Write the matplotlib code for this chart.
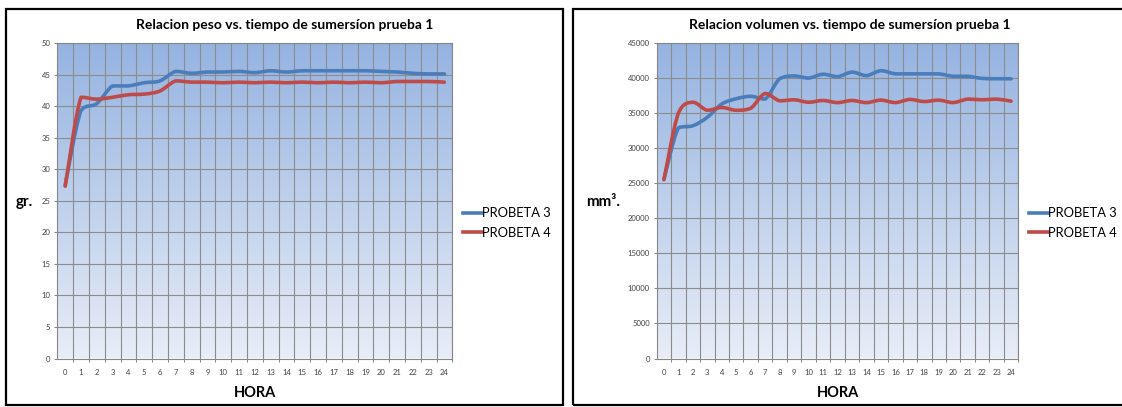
import numpy as np
import matplotlib.pyplot as plt
from matplotlib.path import Path
from matplotlib.patches import PathPatch, Rectangle
from matplotlib.lines import Line2D
from matplotlib.colors import LinearSegmentedColormap

plt.rcParams['font.family'] = ['Lato', 'DejaVu Sans']

W, H = 1122, 407

horas = list(range(25))
hora_labels = [str(h) for h in horas]

peso_p3 = [27.5, 39.3, 40.4, 43.2, 43.2, 43.7, 44.0, 45.5, 45.2, 45.4, 45.4, 45.5, 45.3,
           45.6, 45.4, 45.6, 45.6, 45.6, 45.6, 45.6, 45.5, 45.4, 45.2, 45.1, 45.1]
peso_p4 = [27.3, 41.4, 41.1, 41.4, 41.8, 41.9, 42.4, 44.0, 43.8, 43.8, 43.7, 43.8, 43.7,
           43.8, 43.7, 43.8, 43.7, 43.8, 43.7, 43.8, 43.7, 43.9, 43.9, 43.9, 43.8]

vol_p3 = [25600, 32900, 33200, 34400, 36300, 37050, 37400, 37000, 39900, 40300, 40000, 40550, 40200,
          40850, 40350, 41050, 40600, 40600, 40600, 40600, 40250, 40250, 39950, 39900, 39900]
vol_p4 = [25500, 35000, 36550, 35400, 35800, 35400, 35700, 37800, 36750, 36900, 36550, 36800, 36500,
          36800, 36500, 36850, 36500, 36950, 36650, 36850, 36500, 37000, 36900, 37000, 36700]

series_names = ['PROBETA 3', 'PROBETA 4']
series_colors = ['#4a7ebb', '#be4b48']

bg_cmap = LinearSegmentedColormap.from_list('bg', ['#e8edf7', '#95b3e1'])


def fig_rect(x, y, w, h):
    # pixel box (top-left origin) -> figure fraction
    return [x / W, 1 - (y + h) / H, w / W, h / H]


def smooth_path(xs, ys):
    # Catmull-Rom style Bezier segments, control points kept inside each segment's range
    xs = np.asarray(xs, float)
    ys = np.asarray(ys, float)
    n = len(xs)
    verts = [(xs[0], ys[0])]
    codes = [Path.MOVETO]
    for i in range(n - 1):
        i0 = max(i - 1, 0)
        i3 = min(i + 2, n - 1)
        lo, hi = min(ys[i], ys[i + 1]), max(ys[i], ys[i + 1])
        c1y = np.clip(ys[i] + (ys[i + 1] - ys[i0]) / 6, lo, hi)
        c2y = np.clip(ys[i + 1] - (ys[i3] - ys[i]) / 6, lo, hi)
        c1 = (xs[i] + (xs[i + 1] - xs[i0]) / 6, c1y)
        c2 = (xs[i + 1] - (xs[i3] - xs[i]) / 6, c2y)
        verts += [c1, c2, (xs[i + 1], ys[i + 1])]
        codes += [Path.CURVE4] * 3
    return Path(verts, codes)


def draw_chart(ax, series, ymax, ystep, title, ylabel, title_x, ylabel_x, hora_x, legend_x):
    ax.imshow(np.linspace(1, 0, 256).reshape(-1, 1), cmap=bg_cmap, aspect='auto',
              extent=[0, 1, 0, 1], transform=ax.transAxes, zorder=0)
    ax.set_xlim(-0.5, 24.5)
    ax.set_ylim(0, ymax)
    ax.set_xticks(horas)
    ax.set_xticklabels(hora_labels)
    ax.set_xticks(np.arange(0.5, 25, 1), minor=True)
    ax.set_yticks(np.arange(0, ymax + 1, ystep))
    ax.tick_params(axis='x', which='major', length=0, pad=7.5, labelsize=5.5, labelcolor='#404040')
    ax.tick_params(axis='x', which='minor', length=2.5, width=0.75, color='#868686', direction='out')
    ax.tick_params(axis='y', length=2.5, width=0.75, color='#868686', pad=2.5,
                   labelsize=5.5, labelcolor='#404040')
    ax.grid(True, axis='x', which='minor', color='#8c8c8c', lw=0.8)
    ax.grid(True, axis='y', which='major', color='#8c8c8c', lw=0.8)
    ax.set_axisbelow(True)
    for s in ax.spines.values():
        s.set_color('#868686')
        s.set_linewidth(0.8)

    for vals, col in zip(series, series_colors):
        ax.add_patch(PathPatch(smooth_path(horas, vals), fill=False, edgecolor=col,
                               lw=2.6, capstyle='round', joinstyle='round', zorder=3))

    fig.text(title_x / W, 1 - 25 / H, title, ha='center', va='center',
             fontsize=10, fontweight='bold', color='black')
    fig.text(ylabel_x / W, 1 - 202 / H, ylabel, ha='center', va='center',
             fontsize=11, fontweight='bold', color='black')
    fig.text(hora_x / W, 1 - 393 / H, 'HORA', ha='center', va='center',
             fontsize=10.5, fontweight='bold', color='black')

    handles = [Line2D([], [], color=c, lw=2.6) for c in series_colors]
    fig.legend(handles, series_names, loc='center left',
               bbox_to_anchor=(legend_x / W, 1 - 223 / H), frameon=False,
               fontsize=9.3, handlelength=1.45, handletextpad=0.05,
               labelspacing=0.55, borderpad=0, borderaxespad=0)


fig = plt.figure(figsize=(W / 100, H / 100), dpi=100)

# chart frames
for x0, x1 in [(6, 563), (573, 1130)]:
    fig.patches.append(Rectangle((x0 / W, 1 - 405 / H), (x1 - x0) / W, (405 - 9) / H,
                                 transform=fig.transFigure, fill=False,
                                 edgecolor='black', lw=1.6))

ax1 = fig.add_axes(fig_rect(57.3, 43, 395, 315.5))
draw_chart(ax1, [peso_p3, peso_p4], 50, 5,
           'Relacion peso vs. tiempo de sumersíon prueba 1', 'gr.',
           285, 24, 254.8, 463)

ax2 = fig.add_axes(fig_rect(656.7, 43, 361.6, 315.5))
draw_chart(ax2, [vol_p3, vol_p4], 45000, 5000,
           'Relacion volumen vs. tiempo de sumersíon prueba 1', 'mm³.',
           850, 603, 837.5, 1029)

fig.savefig('out.png', dpi=100)
